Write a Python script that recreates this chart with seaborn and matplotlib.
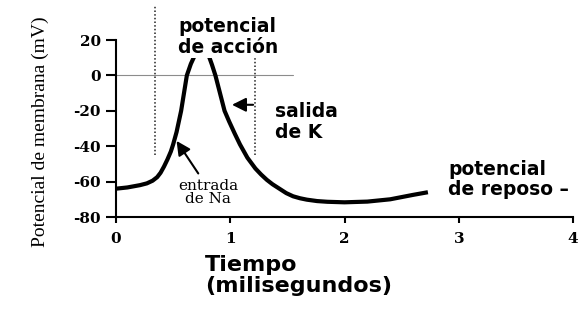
import matplotlib
matplotlib.use("Agg")
import matplotlib.pyplot as plt
import seaborn as sns

# membrane potential trace (ms, mV)
time_ms = [0.00, 0.10, 0.21, 0.27, 0.32, 0.36, 0.39, 0.42, 0.45, 0.48, 0.50,
           0.53, 0.55, 0.57, 0.595, 0.62, 0.655, 0.69, 0.72, 0.75, 0.78,
           0.81, 0.84, 0.87, 0.91, 0.95, 0.99, 1.04, 1.085, 1.15, 1.22,
           1.27, 1.32, 1.37, 1.43, 1.49, 1.55, 1.61, 1.67, 1.76, 1.85,
           2.00, 2.20, 2.40, 2.60, 2.73]
potential_mv = [-64, -63.3, -62, -61, -59.5, -57.5, -55, -51.5, -47.5, -43,
                -39, -32, -26, -20, -10, 0, 6.5, 11.4, 15.5, 17, 15.5,
                11.4, 6, 0, -10, -20, -26, -33, -39, -46.5, -52.6,
                -56, -59, -61.5, -64, -66.5, -68.3, -69.4, -70.2, -71, -71.4,
                -71.7, -71.3, -70, -67.5, -66]

# dotted markers around the action potential
dotted_x = [0.34, 1.22]
dotted_top = [40, 11]
dotted_bottom = [-45, -45]

# zero reference line
zero_x = [0, 1.55]
zero_y = [0, 0]

x_ticks = [0, 1, 2, 3, 4]
y_ticks = [20, 0, -20, -40, -60, -80]

sns.set_style("ticks")
plt.rcParams["axes.unicode_minus"] = False
plt.rcParams["font.family"] = ["DejaVu Sans"]
plt.rcParams["text.color"] = "black"
plt.rcParams["axes.labelcolor"] = "black"
plt.rcParams["xtick.color"] = "black"
plt.rcParams["ytick.color"] = "black"

fig = plt.figure(figsize=(5.88, 3.25), dpi=100)
ax = fig.add_axes([0.1973, 0.3323, 0.7772, 0.5446])

sns.lineplot(x=zero_x, y=zero_y, color="#8c8c8c", linewidth=0.8, ax=ax)
for xd, top, bottom in zip(dotted_x, dotted_top, dotted_bottom):
    ax.plot([xd, xd], [bottom, top], color="#222222",
            linestyle=(0, (1, 1.4)), linewidth=1.1, clip_on=False)
sns.lineplot(x=time_ms, y=potential_mv, sort=False, estimator=None,
             color="black", linewidth=3.0, ax=ax,
             solid_joinstyle="round", solid_capstyle="butt", zorder=3)

ax.set_xlim(0, 4)
ax.set_ylim(-80, 20)
ax.set_xticks(x_ticks)
ax.set_yticks(y_ticks)
ax.tick_params(axis="y", direction="out", length=7, width=1.5, pad=4)
ax.tick_params(axis="x", direction="out", length=4, width=1.5, pad=7)
for lab in ax.get_xticklabels() + ax.get_yticklabels():
    lab.set_fontfamily("DejaVu Serif")
    lab.set_fontweight("bold")
    lab.set_fontsize(11)
sns.despine(ax=ax)
for side in ["left", "bottom"]:
    ax.spines[side].set_linewidth(1.5)
    ax.spines[side].set_color("black")

ax.set_ylabel("Potencial de membrana (mV)", family="Liberation Serif",
              fontsize=14)
ax.yaxis.set_label_coords(-0.147, 0.48)
ax.set_xlabel("Tiempo\n(milisegundos)", fontsize=16, fontweight="bold",
              ha="left", linespacing=1.05)
ax.xaxis.set_label_coords(0.195, -0.215)

# annotations (va="baseline" anchors the last line)
ax.text(0.543, 12.7, "potencial\nde acción", fontsize=13.5,
        fontweight="bold", va="baseline", ha="left", linespacing=1.1,
        zorder=5, bbox=dict(facecolor="white", edgecolor="none", pad=1))
ax.text(1.392, -35.4, "salida\nde K", fontsize=13.5, fontweight="bold",
        va="baseline", ha="left", linespacing=1.15)
ax.text(2.906, -67.6, "potencial\nde reposo –", fontsize=13.5,
        fontweight="bold", va="baseline", ha="left", linespacing=1.1)
ax.text(0.805, -71.9, "entrada\nde Na", family="DejaVu Serif", fontsize=11,
        va="baseline", ha="center", linespacing=0.85)

arrow = dict(arrowstyle="-|>,head_length=0.6,head_width=0.3", color="black",
             lw=1.5, shrinkA=0, shrinkB=0, mutation_scale=14)
ax.annotate("", xy=(0.53, -37), xytext=(0.72, -55.4), arrowprops=arrow)
ax.annotate("", xy=(1.015, -16.6), xytext=(1.2, -16.6), arrowprops=arrow)

fig.savefig("out.png", dpi=100)
